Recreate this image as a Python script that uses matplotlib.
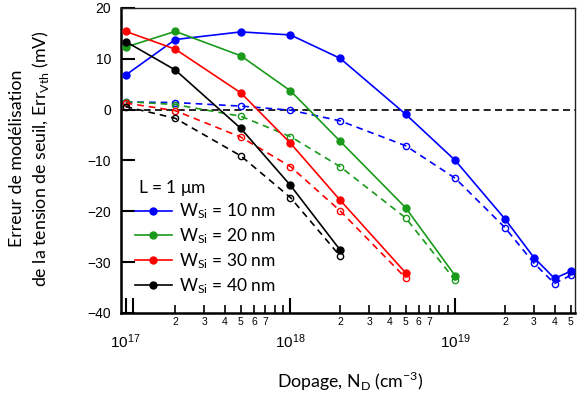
import numpy as np
import matplotlib.pyplot as plt
from matplotlib.ticker import FixedLocator, FuncFormatter

plt.rcParams['font.family'] = ['Liberation Sans', 'DejaVu Sans']
plt.rcParams['mathtext.fontset'] = 'custom'
plt.rcParams['mathtext.rm'] = 'Liberation Sans'
plt.rcParams['mathtext.it'] = 'Liberation Sans:italic'

label_font = ['Lato', 'DejaVu Sans']

# doping values (cm^-3)
nd = [1e17, 2e17, 5e17, 1e18, 2e18, 5e18, 1e19, 2e19, 3e19, 4e19, 5e19]

# modelling error (mV): solid = filled markers, dashed = open markers
err_10 = [6.8, 13.8, 15.3, 14.7, 10.1, -0.9, -10.0, -21.5, -29.1, -33.2, -31.8]
err_10_b = [1.5, 1.4, 0.7, -0.1, -2.2, -7.1, -13.5, -23.2, -30.2, -34.2, -32.6]
err_20 = [12.3, 15.4, 10.6, 3.7, -6.2, -19.3, -32.7]
err_20_b = [1.6, 1.0, -1.3, -5.3, -11.2, -21.3, -33.6]
err_30 = [15.4, 11.9, 3.3, -6.6, -17.8, -32.1]
err_30_b = [1.3, -0.2, -5.4, -11.2, -19.9, -33.1]
err_40 = [13.4, 7.8, -3.7, -14.9, -27.6]
err_40_b = [0.6, -1.7, -9.1, -17.3, -28.8]

labels = ['10', '20', '30', '40']
colors = ['#0000ff', '#1a9a1a', '#ff0000', '#000000']
solid = [err_10, err_20, err_30, err_40]
dashed = [err_10_b, err_20_b, err_30_b, err_40_b]

fig = plt.figure(figsize=(5.79, 3.96), dpi=100)
ax = fig.add_axes([0.2085, 0.2096, 0.7845, 0.7702])

ax.axhline(0, color='black', lw=1.2, ls=(0, (4.2, 2.6)), zorder=1)

handles = []
for w, c, ys, yd in zip(labels, colors, solid, dashed):
    x = nd[:len(ys)]
    ax.plot(x, yd, color=c, lw=1.2, ls=(0, (4, 3)), marker='o', ms=4.5,
            mfc='none', mec=c, mew=1.0, zorder=2)
    h, = ax.plot(x, ys, color=c, lw=1.2, marker='o', ms=5, mfc=c, mec=c,
                 zorder=3, label=r'W$_{\mathregular{Si}}$ = ' + w + ' nm')
    handles.append(h)

ax.set_xscale('log')
ax.set_xlim(9.33e16, 5.32e19)
ax.set_ylim(-40, 20)
ax.set_yticks([-40, -30, -20, -10, 0, 10, 20])

majors = [1e17, 1.1e17, 1e18, 1e19]
minors = [m * d for d in [1e17, 1e18, 1e19] for m in range(2, 10) if m * d <= 5.3e19]
ax.xaxis.set_major_locator(FixedLocator(majors))
ax.xaxis.set_minor_locator(FixedLocator(minors))


def major_label(v, p):
    e = np.log10(v)
    if abs(e - round(e)) > 1e-6:
        return ''
    return r'$10^{%d}$' % round(e)


def minor_label(v, p):
    m = int(round(v / 10 ** np.floor(np.log10(v) + 1e-9)))
    return str(m) if m <= 7 else ''


ax.xaxis.set_major_formatter(FuncFormatter(major_label))
ax.xaxis.set_minor_formatter(FuncFormatter(minor_label))

ax.tick_params(axis='y', which='major', direction='in', length=10, width=1.5,
               labelsize=10, pad=7)
ax.tick_params(axis='x', which='major', direction='in', length=11, width=1.5,
               labelsize=11, pad=14)
ax.tick_params(axis='x', which='minor', direction='in', length=6, width=1.2,
               labelsize=7.5, pad=3)
for s in ax.spines.values():
    s.set_linewidth(1.0)
    s.set_color('#222222')
ax.spines['left'].set_linewidth(1.8)
ax.spines['bottom'].set_linewidth(1.8)
ax.spines['left'].set_color('black')
ax.spines['bottom'].set_color('black')

ax.text(0.037, 0.394, r'L = 1 $\mathregular{\mu}$m', transform=ax.transAxes,
        fontsize=12.5, family=label_font, ha='left', va='baseline')
ax.legend(handles=handles, loc='upper left', bbox_to_anchor=(0.005, 0.405),
          frameon=False, handlelength=2.1, handletextpad=0.4, labelspacing=0.3,
          borderaxespad=0.3, prop={'family': label_font, 'size': 12.5})

fig.text(0.6045, 0.02, r'Dopage, N$_{\mathregular{D}}$ (cm$^{\mathregular{-3}}$)',
         ha='center', va='baseline', fontsize=12.8, family=label_font)
fig.text(0.052, 0.6,
         'Erreur de modélisation\n' + r'de la tension de seuil, Err$_{\mathregular{Vth}}$ (mV)',
         ha='center', va='center', rotation=90, fontsize=12.8, family=label_font,
         linespacing=1.3, multialignment='center')

fig.savefig('out.png', dpi=100)
